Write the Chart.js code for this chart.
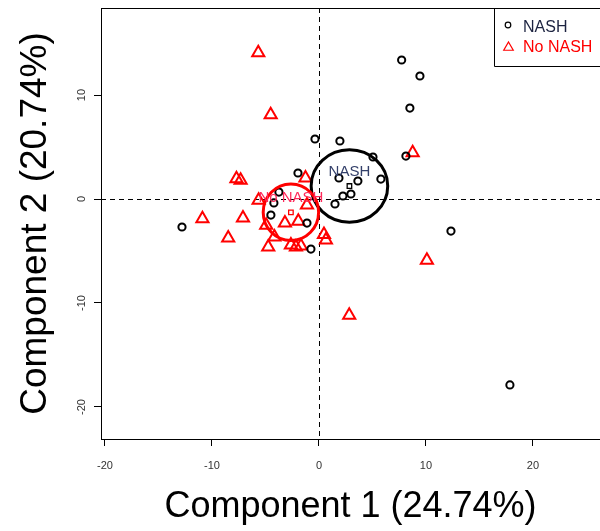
<!DOCTYPE html>
<html>
<head>
<meta charset="utf-8">
<script src="https://cdn.jsdelivr.net/npm/chart.js@4.4.0/dist/chart.umd.min.js"></script>
<style>
  html, body { margin: 0; padding: 0; background: #fff; overflow: hidden; }
</style>
</head>
<body>
<canvas id="chart" width="600" height="531"></canvas>
<script>
// PCA scores
const nashX = [7.73, 9.44, 8.50, 8.13, -0.37, 1.96, 5.05, 5.79, 1.87, 3.64, 2.99, 2.24, 1.50, -1.12, -1.96, -3.74, -4.21, -4.49, -0.75, -12.80, 12.34, 17.85];
const nashY = [13.37, 11.83, 8.75, 4.13, 5.77, 5.58, 4.04, 1.92, 2.02, 1.73, 0.48, 0.29, -0.48, -2.31, 2.50, 0.67, -0.38, -1.54, -4.81, -2.69, -3.08, -17.88];

const noNashX = [-5.67, -4.51, -7.71, -7.32, -1.26, -5.64, -1.12, -10.89, -7.10, -8.48, -4.93, -3.18, -1.93, -4.16, -4.74, -2.62, -2.15, -1.68, 0.47, 0.65, 8.76, 10.09, 2.83];
const noNashY = [14.07, 8.11, 1.95, 1.80, 2.02, -0.13, -0.58, -1.89, -1.83, -3.75, -2.53, -2.31, -2.14, -3.65, -4.62, -4.42, -4.62, -4.52, -3.41, -3.94, 4.45, -5.89, -11.18];

// class ellipses (centre + radii, in data units)
const classNames = ['NASH', 'No NASH'];
const classCenterX = [2.85, -2.62];
const classCenterY = [1.25, -1.28];
const classRadX = [3.58, 2.59];
const classRadY = [3.48, 2.72];

const xTicks = [-20, -10, 0, 10, 20];
const yTicks = [-20, -10, 0, 10];
const refLines = [0];

const FONT = "'Liberation Sans', Arial, sans-serif";
const colors = ['#000000', '#ff0000'];
const labelColors = ['#34406a', '#ff2a5a'];

const toPoints = (xs, ys) => xs.map((x, i) => ({ x: x, y: ys[i] }));

const pcaDecor = {
  id: 'pcaDecor',
  beforeDatasetsDraw(chart) {
    const { ctx, chartArea } = chart;
    const x = chart.scales.x, y = chart.scales.y;
    ctx.save();
    ctx.strokeStyle = '#000';
    ctx.lineWidth = 1;
    ctx.setLineDash([5, 4]);
    refLines.forEach(v => {
      const px = Math.round(x.getPixelForValue(v)) + 0.5;
      ctx.beginPath();
      ctx.moveTo(px, chartArea.top);
      ctx.lineTo(px, chartArea.bottom);
      ctx.stroke();
      const py = Math.round(y.getPixelForValue(v)) + 0.5;
      ctx.beginPath();
      ctx.moveTo(chartArea.left, py);
      ctx.lineTo(chartArea.right, py);
      ctx.stroke();
    });
    ctx.setLineDash([]);
    // top edge of the box
    ctx.beginPath();
    ctx.moveTo(chartArea.left, chartArea.top + 0.5);
    ctx.lineTo(chartArea.right, chartArea.top + 0.5);
    ctx.stroke();
    ctx.restore();
  },
  afterDatasetsDraw(chart) {
    const { ctx, chartArea } = chart;
    const x = chart.scales.x, y = chart.scales.y;
    ctx.save();
    // ellipses + class labels
    classNames.forEach((name, i) => {
      const cx = x.getPixelForValue(classCenterX[i]);
      const cy = y.getPixelForValue(classCenterY[i]);
      const rx = x.getPixelForValue(classCenterX[i] + classRadX[i]) - cx;
      const ry = cy - y.getPixelForValue(classCenterY[i] + classRadY[i]);
      ctx.strokeStyle = colors[i];
      ctx.lineWidth = 3;
      ctx.beginPath();
      ctx.ellipse(cx, cy, rx, ry, 0, 0, Math.PI * 2);
      ctx.stroke();
      ctx.fillStyle = labelColors[i];
      ctx.font = '15px ' + FONT;
      ctx.textAlign = 'center';
      ctx.textBaseline = 'middle';
      ctx.fillText(name, cx, cy - 14);
    });

    // legend box
    const lx = chartArea.right - 106, ly = chartArea.top;
    ctx.strokeStyle = '#000';
    ctx.lineWidth = 1;
    ctx.beginPath();
    ctx.moveTo(lx + 0.5, ly);
    ctx.lineTo(lx + 0.5, ly + 58.5);
    ctx.lineTo(chartArea.right, ly + 58.5);
    ctx.stroke();
    ctx.lineWidth = 1.2;
    ctx.strokeStyle = colors[0];
    ctx.beginPath();
    ctx.arc(lx + 14, ly + 17, 2.8, 0, Math.PI * 2);
    ctx.stroke();
    ctx.strokeStyle = colors[1];
    const tx = lx + 14.5, ty = ly + 39.5, tr = 5.5;
    ctx.beginPath();
    ctx.moveTo(tx, ty - tr);
    ctx.lineTo(tx + tr * 0.866, ty + tr * 0.5);
    ctx.lineTo(tx - tr * 0.866, ty + tr * 0.5);
    ctx.closePath();
    ctx.stroke();
    ctx.font = '16px ' + FONT;
    ctx.textAlign = 'left';
    ctx.textBaseline = 'middle';
    ctx.fillStyle = '#1c2340';
    ctx.fillText(classNames[0], lx + 29, ly + 20);
    ctx.fillStyle = colors[1];
    ctx.fillText(classNames[1], lx + 29, ly + 40);

    // rotated y tick labels (R style)
    ctx.fillStyle = '#333';
    ctx.font = '11px ' + FONT;
    ctx.textAlign = 'center';
    ctx.textBaseline = 'middle';
    yTicks.forEach(v => {
      const py = y.getPixelForValue(v);
      ctx.save();
      ctx.translate(chartArea.left - 19, py);
      ctx.rotate(-Math.PI / 2);
      ctx.fillText(String(v), 0, 0);
      ctx.restore();
    });
    ctx.restore();
  }
};

new Chart(document.getElementById('chart'), {
  type: 'scatter',
  data: {
    datasets: [
      {
        label: 'NASH',
        data: toPoints(nashX, nashY),
        pointStyle: 'circle',
        pointRadius: 3.6,
        borderWidth: 2,
        borderColor: colors[0],
        backgroundColor: 'rgba(0,0,0,0)'
      },
      {
        label: 'No NASH',
        data: toPoints(noNashX, noNashY),
        pointStyle: 'triangle',
        pointRadius: 7,
        borderWidth: 2,
        borderColor: colors[1],
        backgroundColor: 'rgba(0,0,0,0)'
      },
      {
        label: 'centres',
        data: toPoints(classCenterX, classCenterY),
        pointStyle: 'rect',
        pointRadius: 3.2,
        borderWidth: 1.3,
        borderColor: colors,
        backgroundColor: 'rgba(0,0,0,0)'
      }
    ]
  },
  options: {
    responsive: false,
    animation: false,
    events: [],
    layout: { autoPadding: false, padding: { top: 8, left: 0, right: 0, bottom: 0 } },
    plugins: {
      legend: { display: false },
      tooltip: { enabled: false }
    },
    scales: {
      x: {
        type: 'linear',
        min: -20.37,
        max: 26.27,
        afterFit: s => { s.height = 92; s.paddingLeft = 0; s.paddingRight = 0; },
        afterBuildTicks: s => { s.ticks = xTicks.map(v => ({ value: v })); },
        grid: { drawOnChartArea: false, drawTicks: true, tickLength: 7, color: '#000', tickColor: '#000' },
        border: { display: true, color: '#000', width: 1 },
        ticks: { padding: 13, color: '#333', font: { family: FONT, size: 11 } },
        title: {
          display: true,
          text: 'Component 1 (24.74%)',
          color: '#000',
          font: { family: FONT, size: 36 },
          padding: { top: 0, bottom: 2 }
        }
      },
      y: {
        type: 'linear',
        min: -23.08,
        max: 18.37,
        afterFit: s => { s.width = 101; s.paddingTop = 0; s.paddingBottom = 0; },
        afterBuildTicks: s => { s.ticks = yTicks.map(v => ({ value: v })); },
        grid: { drawOnChartArea: false, drawTicks: true, tickLength: 7, color: '#000', tickColor: '#000' },
        border: { display: true, color: '#000', width: 1 },
        ticks: { display: false },
        title: {
          display: true,
          text: 'Component 2 (20.74%)',
          color: '#000',
          font: { family: FONT, size: 37 },
          padding: { top: 14, bottom: 0 }
        }
      }
    }
  },
  plugins: [pcaDecor]
});
</script>
</body>
</html>
